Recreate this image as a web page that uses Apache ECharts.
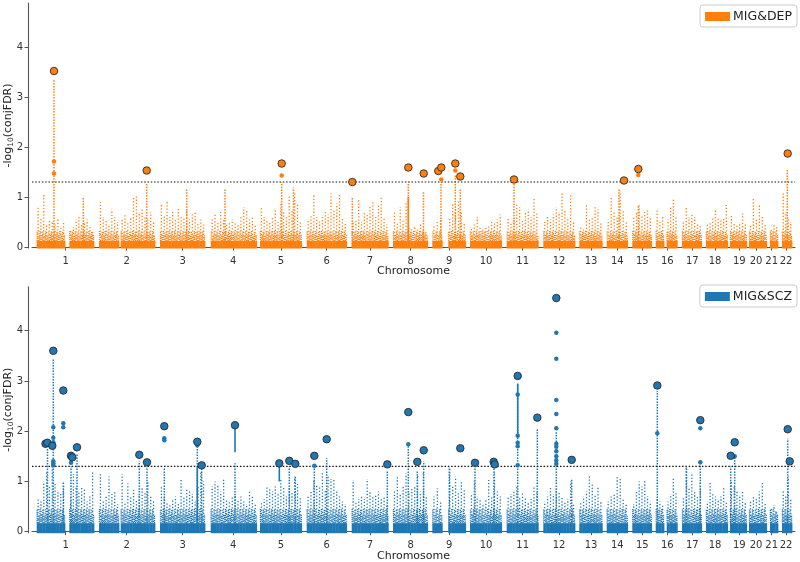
<!DOCTYPE html>
<html><head><meta charset="utf-8">
<script src="https://cdn.jsdelivr.net/npm/echarts@6/dist/echarts.min.js"></script>
<style>html,body{margin:0;padding:0;background:#fff}#c{width:800px;height:562px}</style>
</head><body><div id="c"></div>
<script>
// ---------- data ----------
const chromNames = ['1','2','3','4','5','6','7','8','9','10','11','12','13','14','15','16','17','18','19','20','21','22'];
const chromTicks = [65.7,126.7,182.7,233.3,281,326.7,370,410.7,449.3,486,522.7,559,591,617.3,642.3,667.3,692.3,715,739.3,756,771.7,786];
// chromosome arm blocks on the cumulative position axis
const segments = [[36.7,65],[69.3,94],[99,119],[120.7,155],[160,205],[210.7,256.7],[260,301.7],[306.7,346.7],[351.7,388.3],[393,427.7],[432.3,442.3],[448.3,465.7],[470,501.7],[506.7,538.3],[543.3,575],[579.3,602.3],[606.7,627.7],[632.3,651.7],[655.7,664],[666.7,677.3],[682,701.7],[706,727.7],[730,746.7],[749,766.7],[770,778],[782,792]];
const threshold = 1.3;

// MIG&DEP : binned maxima of the background cloud per block
const depBg = [
 [0.8,0.6,1.04,0.45,0.54,0.5,0.45,0.55,0.4,0.5],
 [0.35,0.4,0.55,0.62,0.45,0.5,0.55,0.4,0.3],
 [0.9,0.6,0.55,0.45,0.75,0.6,0.5],
 [0.55,0.64,0.5,0.6,1.0,1.05,0.7,0.75,0.6,0.55,0.7,0.5],
 [0.85,0.65,0.92,0.6,0.7,0.55,0.8,0.6,0.6,0.75,0.55,0.65,0.7,0.5,0.55,0.45],
 [0.55,0.65,0.5,0.7,0.55,0.45,0.5,0.55,0.5,0.45,0.6,0.8,0.75,0.55,0.6,0.45],
 [0.78,0.6,0.55,0.5,0.6,0.75,0.5,0.9,0.7,0.6,1.05,0.75,1.1,0.85,0.5],
 [0.55,0.65,1.06,0.6,0.55,0.6,0.7,0.65,1.07,0.75,0.87,1.07,0.6,0.5],
 [0.5,0.55,0.95,0.5,0.7,0.65,0.8,0.9,0.6,0.85,1.0,0.6,0.45],
 [0.7,0.5,0.8,0.55,0.9,0.4,0.35,0.4,0.35,0.45,0.4,0.3],
 [0.45,0.5,0.55],
 [0.6,0.87,0.8,0.95,0.7,0.5],
 [0.4,0.45,0.6,0.4,0.35,0.4,0.45,0.5,0.5,0.55,0.65],
 [0.6,0.5,0.55,0.85,0.8,0.55,0.7,0.75,0.6,1.0,0.7],
 [0.5,0.6,0.55,0.65,0.8,0.7,1.1,0.75,0.6,1.05,0.5],
 [0.4,0.35,0.87,0.55,0.6,0.8,0.75,0.5],
 [0.55,0.99,0.7,0.6,1.12,0.75,0.5],
 [0.6,0.7,0.84,0.65,0.7,0.75,0.6],
 [0.77,0.5,0.6],
 [0.55,0.8,0.97,0.6],
 [0.5,0.8,0.6,0.65,0.6,0.45,0.45],
 [0.45,0.5,0.6,0.74,0.6,0.55,0.6,0.84],
 [0.64,0.5,0.45,0.5,0.67,0.45],
 [0.45,1.0,0.55,0.86,0.6,0.45],
 [0.35,0.45,0.4],
 [1.1,0.7,0.6,0.5]
];
const depSpikes = [[54,3.36],[83.3,0.99],[146.7,1.28],[186.7,1.17],[225,1.15],[281.7,1.3],[293.5,1.19],[352.3,1.0],[408.3,1.3],[423.5,1.1],[441,1.3],[455.3,1.45],[460.3,1.15],[514,1.27],[619,1.15],[638.3,0.84],[787.3,1.55]];
const depSegs = [[408.3,0.1,1.0]];
const depHits = [[54,3.52],[146.7,1.53],[281.7,1.67],[352.3,1.30],[408.3,1.59],[423.7,1.47],[438.3,1.52],[441.3,1.59],[455.3,1.67],[460.3,1.41],[514,1.35],[624,1.33],[638.3,1.56],[787.7,1.87]];
const depSmall = [[54,1.71],[54,1.47],[281.7,1.43],[441.3,1.35],[455.3,1.53],[638.3,1.44]];

// MIG&SCZ
const sczBg = [
 [0.65,0.6,1.0,1.2,0.9,1.4,0.95,0.8,0.75,0.96],
 [0.7,1.15,0.9,0.8,0.9,0.85,0.6,0.7,1.22],
 [1.16,0.6,0.7,1.1,0.75,0.8,0.55],
 [1.15,0.6,0.96,0.7,0.83,0.65,0.75,0.9,0.8,1.0,0.7,0.6],
 [0.9,0.7,0.6,0.55,0.65,0.7,0.55,1.03,0.7,0.85,0.8,0.75,0.6,0.9,1.2,1.0],
 [0.9,1.0,0.95,0.8,1.05,0.65,0.6,0.7,0.75,0.65,0.7,0.6,0.55,0.83,0.7,0.55],
 [0.6,0.65,0.9,0.85,0.8,0.9,0.75,1.03,0.9,0.7,0.9,0.8,1.1,0.95,0.7],
 [0.7,0.8,1.05,0.95,0.9,1.2,0.85,1.1,1.05,1.03,0.8,0.7,0.6,0.55],
 [1.03,0.6,0.65,0.7,0.65,1.05,0.8,0.7,0.75,0.8,0.65,0.7,0.55],
 [0.8,1.1,0.75,0.9,1.16,0.8,0.85,0.9,1.15,0.8,1.2,0.7],
 [0.7,0.86,0.6],
 [1.29,0.9,1.1,0.8,1.0,0.85],
 [0.75,1.0,0.7,0.65,0.55,0.65,1.03,0.7,1.2,0.8,0.7],
 [0.7,0.75,0.8,0.9,0.7,0.76,0.7,0.6,0.65,0.9,0.8],
 [0.6,0.7,0.9,0.75,0.85,0.8,0.7,0.6,0.65,1.0,0.55],
 [0.6,0.7,0.8,1.1,0.95,0.75,0.9,0.6],
 [0.6,0.7,0.75,1.1,1.05,0.65,0.55],
 [0.55,0.8,1.0,0.9,1.03,0.7,0.6],
 [0.65,0.6,0.55],
 [0.6,0.75,1.06,0.8],
 [0.7,1.29,0.9,1.16,0.8,0.7,1.0],
 [0.6,1.0,0.75,0.7,0.65,0.7,0.9,0.6],
 [1.0,0.9,0.8,0.7,0.8,0.6],
 [0.6,0.7,0.65,0.8,1.0,0.55],
 [0.45,0.53,0.4],
 [0.8,0.7,1.1,0.65]
];
const sczSpikes = [[47.5,1.65],[53.3,3.45],[63.3,1.0],[71,1.3],[77,1.55],[139.3,1.4],[147,1.29],[164.3,1.28],[197.3,1.7],[201.7,1.25],[235,1.36],[289.3,1.3],[295.3,1.1],[314.3,1.3],[326.7,1.46],[387.3,1.2],[408.3,1.7],[417.3,1.2],[423.7,1.4],[449.3,1.29],[475,1.3],[494,1.3],[517.7,2.95],[537.3,2.05],[556.3,2.0],[571.7,1.05],[657.3,2.8],[686.5,1.29],[700.3,1.35],[730.7,1.3],[734.7,1.5],[787.7,1.85]];
const sczSegs = [[235,1.58,2.1],[279.3,1.0,1.36],[517.7,1.95,2.95],[197.3,0.2,1.3]];
const sczHits = [[45.5,1.75],[47.3,1.77],[52.3,1.71],[53.3,3.60],[63.3,2.81],[71,1.51],[72.3,1.48],[77,1.68],[139.3,1.53],[147,1.38],[164.3,2.10],[197.3,1.79],[201.7,1.32],[235,2.12],[279.3,1.36],[289.3,1.41],[295.3,1.35],[314.3,1.51],[326.7,1.84],[387.3,1.34],[408.3,2.38],[417.3,1.39],[423.7,1.62],[460.3,1.66],[475,1.37],[493.7,1.39],[494.7,1.34],[517.7,3.10],[537.3,2.27],[556.3,4.65],[571.7,1.43],[657.3,2.91],[700.3,2.22],[730.7,1.51],[734.7,1.78],[787.7,2.04],[789.7,1.40]];
const sczSmall = [[53.3,2.08],[53.3,1.87],[53.3,1.78],[53.3,1.40],[53.3,1.36],[53.3,1.32],[63.3,2.16],[63.3,2.08],[71,1.37],[164.3,1.86],[164.3,1.82],[197.3,1.72],[314.3,1.31],[408.3,1.74],[517.7,2.73],[517.7,1.91],[517.7,1.77],[517.7,1.70],[517.7,1.32],[556.3,3.96],[556.3,3.44],[556.3,2.62],[556.3,2.34],[556.3,2.06],[556.3,1.75],[556.3,1.69],[556.3,1.60],[556.3,1.50],[556.3,1.42],[556.3,1.35],[657.3,1.96],[700.3,2.06],[700.3,1.38],[734.7,1.50]];

// ---------- chart ----------
const FONT = 'DejaVu Sans';
const ORANGE = '#ff7f0e', BLUE = '#1f77b4';

function binData(bgs){
  const out = [];
  segments.forEach((s,k)=>{
    const arr = bgs[k]; const w = (s[1]-s[0])/arr.length;
    arr.forEach((h,i)=> out.push([s[0]+(i+0.5)*w, h, w]));
  });
  return out;
}
function bgRenderer(color, base, mid){
  return function(params, api){
    const i = params.dataIndex;
    const x = api.value(0), h = api.value(1), w = api.value(2);
    const a = api.coord([x-w/2, -0.03]);
    const b = api.coord([x+w/2, base]);
    const midTop = api.coord([x, Math.min(h, mid)]);
    const mid2 = api.coord([x, Math.min(h, mid*0.75)]);
    const bot = api.coord([x, base]);
    const top = api.coord([x, h]);
    const q = api.size([w/3, 0])[0];
    return {type:'group', children:[
      {type:'rect', shape:{x:a[0], y:b[1], width:b[0]-a[0]+0.4, height:a[1]-b[1]}, style:{fill:color}},
      {type:'line', shape:{x1:bot[0]-q, y1:bot[1], x2:bot[0]-q, y2:midTop[1]}, style:{stroke:color, lineWidth:1.3, lineDash:[1.2,0.8], lineDashOffset:(i*0.9)%2}},
      {type:'line', shape:{x1:bot[0]+q, y1:bot[1], x2:bot[0]+q, y2:mid2[1]}, style:{stroke:color, lineWidth:1.3, lineDash:[1.2,0.9], lineDashOffset:(i*1.3)%2}},
      {type:'line', shape:{x1:top[0], y1:bot[1], x2:top[0], y2:top[1]}, style:{stroke:color, lineWidth:1.3, lineDash:[1.3,1.9], lineDashOffset:(i*1.7)%3.2}}
    ]};
  };
}
function spikeRenderer(color){
  return function(params, api){
    const p0 = api.coord([api.value(0), 0]);
    const p1 = api.coord([api.value(0), api.value(1)]);
    return {type:'line', shape:{x1:p0[0], y1:p0[1], x2:p1[0], y2:p1[1]}, style:{stroke:color, lineWidth:1.5, lineDash:[1.5,1.3]}};
  };
}
function segRenderer(color){
  return function(params, api){
    const p0 = api.coord([api.value(0), api.value(1)]);
    const p1 = api.coord([api.value(0), api.value(2)]);
    return {type:'line', shape:{x1:p0[0], y1:p0[1], x2:p1[0], y2:p1[1]}, style:{stroke:color, lineWidth:1.6}};
  };
}
function labelFor(v){
  let best = 0, d = 1e9;
  chromTicks.forEach((t,i)=>{ const dd = Math.abs(t-v); if(dd<d){d=dd;best=i;} });
  return chromNames[best];
}
function xAxisCfg(gi){
  return {gridIndex:gi, type:'value', min:32, max:795, offset:4,
    axisLine:{show:true, lineStyle:{color:'#555', width:1.1}},
    axisTick:{show:true, customValues:chromTicks, length:3.5, lineStyle:{color:'#555'}},
    axisLabel:{customValues:chromTicks, formatter:labelFor, fontSize:10, color:'#333', margin:4, fontFamily:FONT},
    splitLine:{show:false},
    name:'Chromosome', nameLocation:'middle', nameGap:14, nameMoveOverlap:false,
    nameTextStyle:{fontSize:11, color:'#222', fontFamily:FONT}};
}
function yAxisCfg(gi, max){
  return {gridIndex:gi, type:'value', min:-0.02, max:max, offset:4,
    axisLine:{show:true, lineStyle:{color:'#555', width:1.1}},
    axisTick:{show:true, customValues:[0,1,2,3,4], length:3.5, lineStyle:{color:'#555'}},
    axisLabel:{customValues:[0,1,2,3,4], fontSize:10, color:'#333', margin:5, fontFamily:FONT},
    splitLine:{show:false},
    name:'-log{sub|10}(conjFDR)', nameLocation:'middle', nameGap:13, nameRotate:90, nameMoveOverlap:false,
    nameTextStyle:{fontSize:11, color:'#222', fontFamily:FONT, lineHeight:14,
      rich:{sub:{fontSize:7.5, fontFamily:FONT, color:'#222', verticalAlign:'bottom', lineHeight:11}}}};
}
function panelSeries(gi, name, color, bg, spikes, segs, hits, small, base, mid){
  return [
    {type:'custom', xAxisIndex:gi, yAxisIndex:gi, data:binData(bg), renderItem:bgRenderer(color, base, mid), silent:true, z:1},
    {type:'custom', xAxisIndex:gi, yAxisIndex:gi, data:spikes, renderItem:spikeRenderer(color), silent:true, z:2},
    {type:'custom', xAxisIndex:gi, yAxisIndex:gi, data:segs, renderItem:segRenderer(color), silent:true, z:2},
    {type:'line', xAxisIndex:gi, yAxisIndex:gi, data:[[32,threshold],[795,threshold]], symbol:'none', silent:true, z:3,
      lineStyle:{color:'#111', width:1.2, type:[1.5,1.8]}},
    {type:'scatter', xAxisIndex:gi, yAxisIndex:gi, data:small, symbolSize:4.5, itemStyle:{color:color, opacity:1}, z:4, clip:false},
    {name:name, type:'scatter', xAxisIndex:gi, yAxisIndex:gi, data:hits, symbolSize:7.5, z:5, clip:false,
      itemStyle:{color:color, borderColor:'#2b2b2b', borderWidth:0.9, opacity:1}}
  ];
}
function legendCfg(name, top){
  return {data:[name], right:3, top:top, orient:'horizontal', icon:'rect', itemWidth:25, itemHeight:9, itemGap:5,
    padding:[5,5,4,5], borderColor:'#ccc', borderWidth:1, borderRadius:3, backgroundColor:'#fff',
    itemStyle:{borderWidth:0}, textStyle:{fontSize:12.5, color:'#222', fontFamily:FONT, padding:[0,0,0,-2]}};
}

const chart = echarts.init(document.getElementById('c'), null, {renderer:'canvas'});
chart.setOption({
  animation:false,
  backgroundColor:'#fff',
  textStyle:{fontFamily:FONT},
  grid:[{left:32, right:5, top:3, height:245, containLabel:false, outerBoundsMode:'none'},
        {left:32, right:5, top:286.7, height:246, containLabel:false, outerBoundsMode:'none'}],
  xAxis:[xAxisCfg(0), xAxisCfg(1)],
  yAxis:[yAxisCfg(0, 4.88), yAxisCfg(1, 4.876)],
  legend:[legendCfg('MIG&DEP', 5), legendCfg('MIG&SCZ', 285)],
  series:[].concat(
    panelSeries(0, 'MIG&DEP', ORANGE, depBg, depSpikes, depSegs, depHits, depSmall, 0.12, 0.32),
    panelSeries(1, 'MIG&SCZ', BLUE, sczBg, sczSpikes, sczSegs, sczHits, sczSmall, 0.17, 0.45)
  )
});
</script></body></html>
